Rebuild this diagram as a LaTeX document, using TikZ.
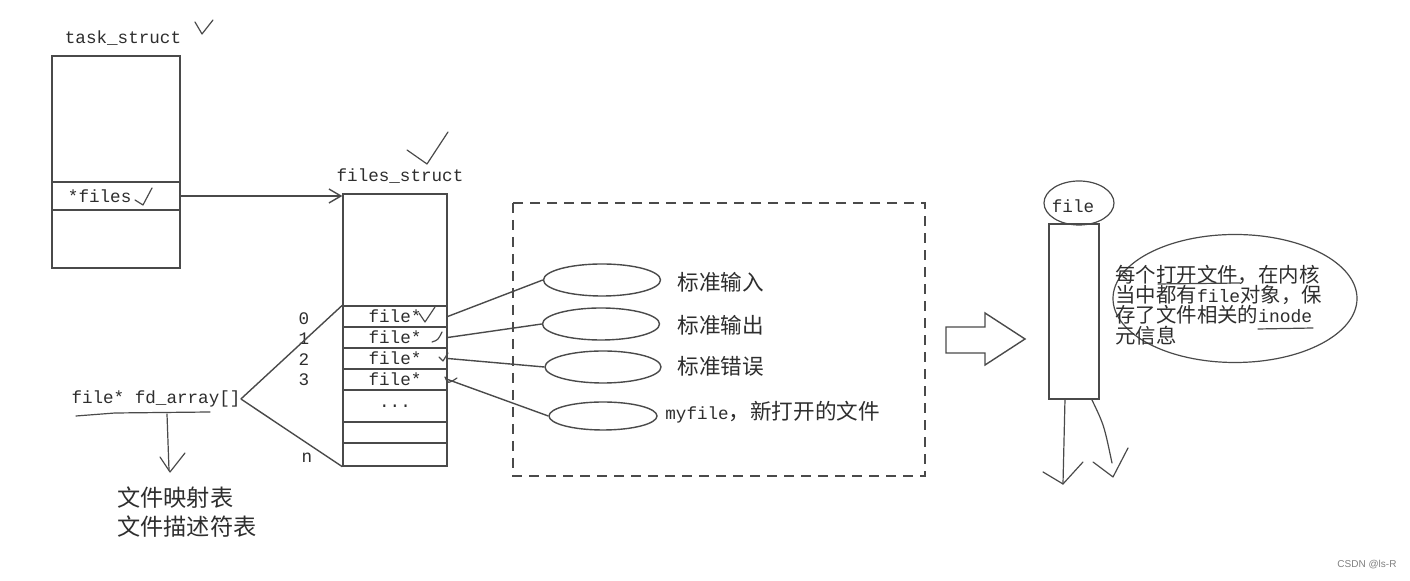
\documentclass[tikz,border=0pt]{standalone}
\usepackage{fontspec}
\setmonofont{Liberation Mono}
\newfontfamily\cjk{Noto Sans CJK SC}
\newfontfamily\wmfont{Liberation Sans}
\usetikzlibrary{shapes.geometric,arrows.meta}
\definecolor{ink}{HTML}{2E2E2E}
\definecolor{pen}{HTML}{4A4A4A}
\tikzset{
  mono/.style={font=\fontsize{8.8}{10}\selectfont\ttfamily,text=ink,inner sep=0pt},
  cjktext/.style={font=\fontsize{10.8}{10}\selectfont\cjk,text=ink,inner sep=0pt},
  cell/.style={draw=pen,line width=0.7pt,minimum width=52pt,inner sep=0pt},
  slot/.style={draw=pen,ellipse,line width=0.7pt,inner sep=0pt},
  hand/.style={pen,line width=0.6pt,line cap=round,line join=round},
}
\begin{document}
\begin{tikzpicture}[x=0.5pt,y=-0.5pt]
\useasboundingbox[fill=white] (0,0) rectangle (1410,581);

\node[mono] (tasklabel) at (123,38) {task\_struct};
\node[cell,minimum width=64pt,minimum height=106pt] (task) at (116,162) {};
\node[cell,minimum width=64pt,minimum height=14pt,text width=64pt,align=left,mono] (files) at (116,196) {\hspace*{8pt}*files};

\node[mono] (fslabel) at (400,176) {files\_struct};
\node[cell,minimum height=136pt] (fs) at (395,330) {};
\node[cell,mono,minimum height=10.5pt] (r0) at (395,316.5) {file*};
\node[cell,mono,minimum height=10.5pt] (r1) at (395,337.5) {file*};
\node[cell,mono,minimum height=10.5pt] (r2) at (395,358.5) {file*};
\node[cell,mono,minimum height=10.5pt] (r3) at (395,379.5) {file*};
\node[cell,mono,minimum height=16pt] (rdots) at (395,406) {...};
\node[cell,minimum height=10.5pt] (r5) at (395,432.5) {};
\node[cell,minimum height=11.5pt] (rn) at (395,454.5) {};

\node[mono] (i0) at (304,319) {0};
\node[mono] (i1) at (304,339) {1};
\node[mono] (i2) at (304,360) {2};
\node[mono] (i3) at (304,380) {3};
\node[mono] (in) at (307,458) {n};

\draw[pen,line width=0.7pt,-{Straight Barb[length=6pt,width=7pt]}] (files.east) -- (files.east -| fs.west);

\node[mono] (fd) at (156,399) {file* fd\_array[]};
\draw[pen,line width=0.7pt] (fd.east) -- (r0.north west);
\draw[pen,line width=0.7pt] (fd.east) -- (rn.south west);

\node[cjktext,font=\fontsize{11.6}{12}\selectfont\cjk,anchor=west] (maptbl) at (117,498) {文件映射表};
\node[cjktext,font=\fontsize{11.6}{12}\selectfont\cjk,anchor=west] (desctbl) at (117,527) {文件描述符表};

\draw[pen,dashed,dash pattern=on 5pt off 3.5pt,line width=0.7pt] (513,203) rectangle (925,476);

\node[slot,minimum width=58.5pt,minimum height=16pt] (e0) at (602,280) {};
\node[slot,minimum width=58.5pt,minimum height=16pt] (e1) at (601,324) {};
\node[slot,minimum width=58pt,minimum height=16pt] (e2) at (603,367) {};
\node[slot,minimum width=54pt,minimum height=14pt] (e3) at (603,416) {};

\draw[pen,line width=0.7pt] (r0.east) -- (e0.west);
\draw[pen,line width=0.7pt] (r1.east) -- (e1.west);
\draw[pen,line width=0.7pt] (r2.east) -- (e2.west);
\draw[pen,line width=0.7pt] (r3.east) -- (e3.west);

\node[cjktext,anchor=west] (l0) at (677,282) {标准输入};
\node[cjktext,anchor=west] (l1) at (677,325) {标准输出};
\node[cjktext,anchor=west] (l2) at (677,366) {标准错误};
\node[cjktext,anchor=west] (l3) at (665,412) {{\fontsize{8.8}{10}\selectfont\ttfamily myfile}，新打开的文件};

\draw[pen,line width=0.7pt] (946,327) -- (985,327) -- (985,313) -- (1025,339) -- (985,365) -- (985,353) -- (946,353) -- cycle;

\node[cell,minimum width=25pt,minimum height=87.5pt] (filebox) at (1074,311.5) {};
\node[mono] (filelabel) at (1073,206) {file};
\draw[hand] (1079,203) ellipse [x radius=17.5pt,y radius=11pt];

\draw[hand] (1235,298.5) ellipse [x radius=61pt,y radius=32pt];
\node[cjktext,font=\fontsize{10.2}{10.2}\selectfont\cjk,anchor=west,align=left] (note) at (1115,305) {每个打开文件，在内核\\当中都有{\fontsize{9}{10}\selectfont\ttfamily file}对象，保\\存了文件相关的{\fontsize{9}{10}\selectfont\ttfamily inode}\\元信息};

\coordinate (c1) at (195,22);
\draw[hand] (c1) -- (202,34) -- (213,20);
\draw[hand] (135,200) -- (143,205) -- (152,188);
\draw[hand] (407,150) -- (427,164) -- (448,132);
\draw[hand] (419,313) -- (425,322) -- (435,307);
\draw[hand] (432,342) .. controls (438,340) .. (442,332);
\draw[hand] (439,357) -- (443,361) -- (448,353);
\draw[hand] (445,377) .. controls (448,384) .. (457,378);

\coordinate (ul0) at (76,416);
\draw[hand] (ul0) -- (115,413) -- (210,412);
\coordinate (dn0) at (167,414);
\draw[hand] (dn0) -- (169,470);
\draw[hand] (160,457) -- (170,472) -- (185,453);

\draw[hand] (1158,284) -- (1240,283);
\draw[hand] (1258,329) -- (1313,328);

\coordinate (fa0) at (1065,399);
\draw[hand] (fa0) -- (1063,484);
\draw[hand] (1043,472) -- (1063,484) -- (1083,462);
\coordinate (fa1) at (1092,400);
\draw[hand] (fa1) .. controls (1104,425) .. (1112,463);
\draw[hand] (1093,462) -- (1113,477) -- (1128,448);

\node[font=\fontsize{5}{6}\selectfont\wmfont,text=gray,inner sep=0pt] (csdn) at (1367,565) {CSDN @ls-R};
\end{tikzpicture}
\end{document}
